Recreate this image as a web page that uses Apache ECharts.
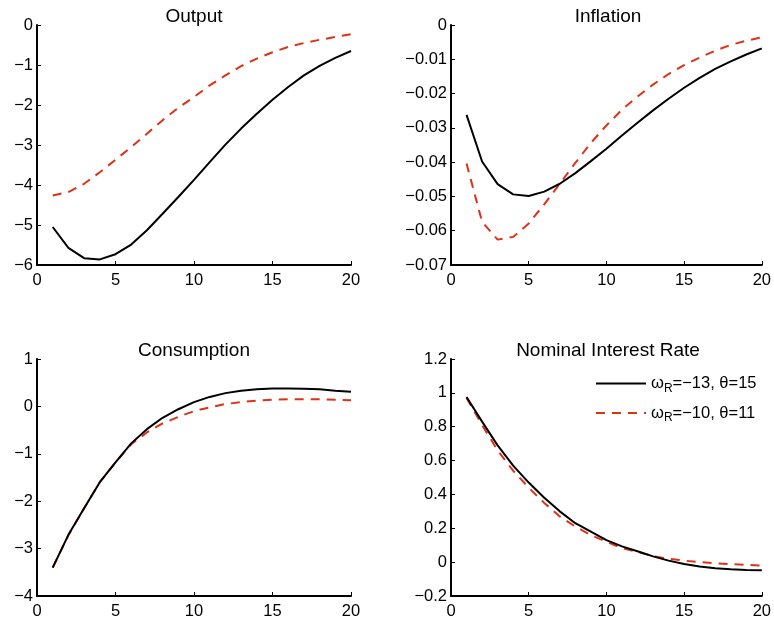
<!DOCTYPE html>
<html>
<head>
<meta charset="utf-8">
<title>Impulse responses</title>
<script src="https://cdn.jsdelivr.net/npm/echarts@6/dist/echarts.min.js"></script>
<style>
  html, body { margin: 0; padding: 0; background: #fff; }
  #main { width: 774px; height: 620px; }
</style>
</head>
<body>
<div id="main"></div>
<script>
// horizon (quarters)
const periods = [1, 2, 3, 4, 5, 6, 7, 8, 9, 10, 11, 12, 13, 14, 15, 16, 17, 18, 19, 20];

// Output
const outputA = [-5.05, -5.57, -5.83, -5.86, -5.73, -5.49, -5.13, -4.72, -4.30, -3.87,
  -3.43, -2.99, -2.59, -2.22, -1.87, -1.55, -1.26, -1.02, -0.82, -0.65];
const outputB = [-4.26, -4.18, -3.97, -3.68, -3.37, -3.05, -2.72, -2.38, -2.07, -1.80,
  -1.51, -1.26, -1.03, -0.84, -0.68, -0.55, -0.45, -0.37, -0.30, -0.23];

// Inflation
const inflationA = [-0.0262, -0.0398, -0.0464, -0.0494, -0.0499, -0.0486, -0.0463, -0.0432, -0.0397, -0.0361,
  -0.0322, -0.0285, -0.0249, -0.0215, -0.0183, -0.0154, -0.0128, -0.0106, -0.0086, -0.0068];
const inflationB = [-0.0404, -0.0574, -0.0626, -0.0618, -0.0579, -0.0523, -0.0463, -0.0402, -0.0344, -0.0293,
  -0.0247, -0.0209, -0.0174, -0.0143, -0.0117, -0.0095, -0.0075, -0.0058, -0.0046, -0.0036];

// Consumption
const consumptionA = [-3.40, -2.71, -2.15, -1.60, -1.18, -0.78, -0.48, -0.24, -0.06, 0.09,
  0.20, 0.28, 0.33, 0.36, 0.38, 0.38, 0.37, 0.36, 0.33, 0.31];
const consumptionB = [-3.40, -2.72, -2.15, -1.60, -1.18, -0.80, -0.55, -0.36, -0.22, -0.10,
  -0.02, 0.05, 0.09, 0.12, 0.14, 0.15, 0.15, 0.15, 0.14, 0.13];

// Nominal interest rate
const rateA = [0.976, 0.83, 0.69, 0.57, 0.47, 0.38, 0.30, 0.23, 0.18, 0.13,
  0.093, 0.064, 0.034, 0.009, -0.011, -0.026, -0.036, -0.042, -0.046, -0.048];
const rateB = [0.97, 0.81, 0.66, 0.54, 0.44, 0.35, 0.27, 0.21, 0.16, 0.12,
  0.083, 0.06, 0.036, 0.02, 0.009, 0.0, -0.007, -0.012, -0.016, -0.02];

const titles = ["Output", "Inflation", "Consumption", "Nominal Interest Rate"];
const seriesA = [outputA, inflationA, consumptionA, rateA];
const seriesB = [outputB, inflationB, consumptionB, rateB];
// [min, max, interval, decimals]
const yScales = [[-6, 0, 1, 0], [-0.07, 0, 0.01, 2], [-4, 1, 1, 0], [-0.2, 1.2, 0.2, 1]];
const legendNames = ["A", "B"];
const legendLabels = {
  A: "{w|ω}{s|R}{w|=−13, θ=15}",
  B: "{w|ω}{s|R}{w|=−10, θ=11}"
};

const FONT = "'Liberation Sans', Arial, sans-serif";
const RED = "#dc3218";

const grids = [
  { left: 37, top: 25, width: 314, height: 240 },
  { left: 451, top: 25, width: 314, height: 240 },
  { left: 37, top: 359, width: 314, height: 239 },
  { left: 451, top: 359, width: 314, height: 239 }
];

function fmt(dec) {
  return function (v) {
    if (Math.abs(v) < 1e-9) return "0";
    return String(+v.toFixed(dec)).replace("-", "\u2212");
  };
}

const axisLine = { show: true, onZero: false, lineStyle: { color: "#000", width: 2 } };
const axisTick = { show: true, inside: true, length: 4, lineStyle: { color: "#000", width: 1 } };

const option = {
  animation: false,
  backgroundColor: "#fff",
  title: titles.map((t, i) => ({
    text: t,
    left: grids[i].left + grids[i].width / 2,
    textAlign: "center",
    top: grids[i].top - 18,
    padding: 0,
    textStyle: { fontFamily: FONT, fontSize: 19, fontWeight: "normal", color: "#000" }
  })),
  grid: grids,
  xAxis: grids.map((g, i) => ({
    type: "value",
    gridIndex: i,
    min: 0, max: 20, interval: 5,
    axisLine: axisLine,
    axisTick: axisTick,
    splitLine: { show: false },
    axisLabel: { margin: 7, fontFamily: FONT, fontSize: 16.5, color: "#000" }
  })),
  yAxis: yScales.map((s, i) => ({
    type: "value",
    gridIndex: i,
    min: s[0], max: s[1], interval: s[2],
    axisLine: axisLine,
    axisTick: axisTick,
    splitLine: { show: false },
    axisLabel: { margin: 4, fontFamily: FONT, fontSize: 16.5, color: "#000", formatter: fmt(s[3]) }
  })),
  legend: {
    data: legendNames,
    orient: "vertical",
    left: 595,
    top: 375,
    padding: 0,
    itemWidth: 50,
    itemHeight: 14,
    itemGap: 10,
    itemStyle: { opacity: 0 },
    formatter: (name) => legendLabels[name],
    textStyle: {
      color: "#000",
      rich: {
        w: { fontFamily: FONT, fontSize: 16.5, color: "#000" },
        s: { fontFamily: FONT, fontSize: 12, color: "#000", padding: [10, 0, 0, 0] }
      }
    }
  },
  series: []
};

for (let i = 0; i < 4; i++) {
  option.series.push({
    name: "A",
    type: "line",
    xAxisIndex: i, yAxisIndex: i,
    data: periods.map((p, k) => [p, seriesA[i][k]]),
    showSymbol: false, symbol: "none",
    lineStyle: { color: "#000", width: 2 },
    itemStyle: { color: "#000" },
    z: 3
  });
  option.series.push({
    name: "B",
    type: "line",
    xAxisIndex: i, yAxisIndex: i,
    data: periods.map((p, k) => [p, seriesB[i][k]]),
    showSymbol: false, symbol: "none",
    lineStyle: { color: RED, width: 2, type: [9, 7] },
    itemStyle: { color: RED },
    z: 2
  });
}

const chart = echarts.init(document.getElementById("main"), null, { renderer: "canvas" });
chart.setOption(option);
</script>
</body>
</html>
